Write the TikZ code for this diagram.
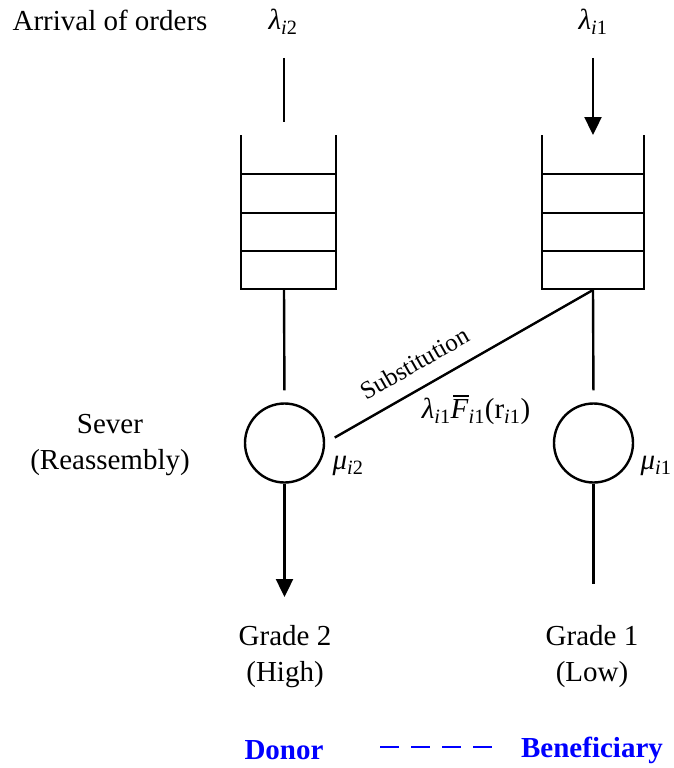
\documentclass[tikz,border=0pt]{standalone}
\usepackage{fontspec}
\setmainfont{Liberation Serif}
\usetikzlibrary{arrows.meta}
\newcommand\subidx[1]{\textsubscript{\textit{i}#1}}
% italic F with a bar over it
\newcommand\barF{{\setbox0\hbox{\textit{F}}%
  \rlap{\raisebox{\dimexpr\ht0+2.5pt\relax}{\kern2.5pt\rule{\dimexpr\wd0-2pt\relax}{1.6pt}}}\box0}}
\begin{document}
\begin{tikzpicture}[x=1pt,y=-1pt,
  ln/.style={line width=2.4pt},
  arr/.style={ln,-{Triangle[length=18pt,width=17pt]}},
  srv/.style={circle,draw,line width=2.4pt,minimum size=79pt,inner sep=0pt},
  lbl/.style={font=\fontsize{29}{36}\selectfont,align=center,inner sep=0pt},
  key/.style={font=\fontsize{29}{36}\selectfont\bfseries,text=blue,inner sep=0pt}]
\useasboundingbox (0,0) rectangle (673,768);

% queues: open-topped buffers with three slots
\foreach \xl/\xr in {241/336,542/644}{
  \draw[ln] (\xl,135) -- (\xl,289) -- (\xr,289) -- (\xr,135);
  \foreach \y in {174,213,251}
    \draw[ln] (\xl,\y) -- (\xr,\y);
}

% queue inlets and outlets
\coordinate (q2in) at (284,58);
\coordinate (q2top) at (284,122);
\coordinate (q2out) at (284,289);
\coordinate (q1in) at (593,58);
\coordinate (q1top) at (593,135);
\coordinate (q1out) at (593,290);

% servers
\node[srv] (s2) at (284.5,443) {};
\node[srv] (s1) at (593.5,443) {};

% outputs
\coordinate (o2) at (284.5,597);
\coordinate (o1) at (593.5,584);

% connectors
\draw[ln] (q2in) -- (q2top);
\draw[arr] (q1in) -- (q1top);
\draw[ln,shorten >=12pt] (q2out) -- (s2.north);
\draw[ln,shorten >=12pt] (q1out) -- (s1.north);
\draw[arr] (s2.south) -- (o2);
\draw[ln] (s1.south) -- (o1);
\draw[ln,shorten >=11pt] (q1out) -- (s2.east)
  node[pos=0.62,sloped,above=15pt,font=\fontsize{25}{30}\selectfont,inner sep=0pt] (sub) {Substitution};

% labels
\node[lbl] (arr) at (110,20) {Arrival of orders};
\node[lbl] (l2) at (283,22) {\textit{λ}\subidx{2}};
\node[lbl] (l1) at (593,22) {\textit{λ}\subidx{1}};
\node[lbl] (rate) at (476,410) {\textit{λ}\subidx{1}\barF\subidx{1}(r\subidx{1})};
\node[lbl] (m2) at (348,466) {\textit{μ}\subidx{2}};
\node[lbl] (m1) at (656,466) {\textit{μ}\subidx{1}};
\node[lbl] (sever) at (110,445) {Sever\\(Reassembly)};
\node[lbl] (g2) at (285,657) {Grade 2\\(High)};
\node[lbl] (g1) at (592,657) {Grade 1\\(Low)};

% legend
\node[key] (donor) at (284,750) {Donor};
\node[key] (benef) at (592,750) {Beneficiary};
\coordinate (dl) at (380,747);
\coordinate (dr) at (492,747);
\draw[blue,line width=2.8pt,dash pattern=on 19pt off 12pt] (dl) -- (dr);
\end{tikzpicture}
\end{document}
